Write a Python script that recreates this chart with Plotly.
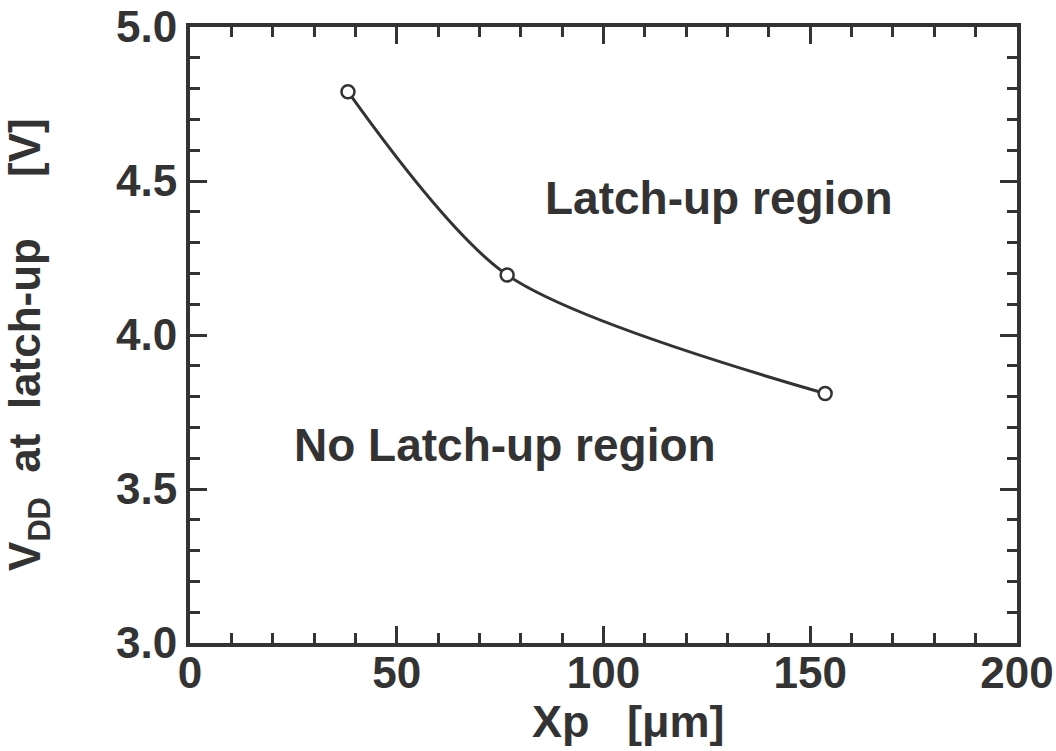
import plotly.graph_objects as go

xp = [38.2, 76.7, 153.6]
vdd = [4.79, 4.195, 3.81]
x_ticks = [0, 50, 100, 150, 200]
y_ticks = [3.0, 3.5, 4.0, 4.5, 5.0]
y_ticklabels = ["3.0", "3.5", "4.0", "4.5", "5.0"]

ink = "#333333"
font_family = "Liberation Sans, Arial, sans-serif"

fig = go.Figure()
fig.add_trace(go.Scatter(
    x=xp, y=vdd, mode="lines+markers",
    line=dict(color=ink, width=3, shape="spline", smoothing=0.8),
    marker=dict(symbol="circle", size=13, color="white",
                line=dict(color=ink, width=2.5)),
    showlegend=False,
))

fig.add_annotation(x=127.9, y=4.445, text="Latch-up region", showarrow=False,
                   font=dict(family=font_family, size=46, color=ink, weight="bold"))
fig.add_annotation(x=76.2, y=3.643, text="No Latch-up region", showarrow=False,
                   font=dict(family=font_family, size=46, color=ink, weight="bold"))

# axis titles
fig.add_annotation(x=106, xref="x", y=-0.128, yref="paper", yanchor="middle",
                   text="Xp   [μm]", showarrow=False,
                   font=dict(family=font_family, size=45, color=ink, weight="bold"))
fig.add_annotation(x=-0.195, xref="paper", xanchor="center", y=3.97, yref="y",
                   text="V<sub>DD</sub>  at  latch-up     [V]", showarrow=False, textangle=-90,
                   font=dict(family=font_family, size=44, color=ink, weight="bold"))

axis_common = dict(
    showline=True, linecolor=ink, linewidth=4, mirror="ticks",
    ticks="inside", ticklen=17, tickwidth=3, tickcolor=ink,
    showgrid=False, zeroline=False, automargin=False,
    tickfont=dict(family=font_family, size=44, color=ink, weight="bold"),
)

fig.update_layout(
    width=1056, height=751,
    margin=dict(l=190, r=39, t=27, b=108, autoexpand=False),
    paper_bgcolor="white", plot_bgcolor="white",
    xaxis=dict(range=[0, 200], tickvals=x_ticks, ticktext=[str(v) for v in x_ticks],
               ticklabelstandoff=-12,
               minor=dict(dtick=10, ticks="inside", ticklen=10, tickwidth=3, tickcolor=ink),
               **axis_common),
    yaxis=dict(range=[3.0, 5.0], tickvals=y_ticks, ticktext=y_ticklabels,
               minor=dict(dtick=0.1, ticks="inside", ticklen=10, tickwidth=3, tickcolor=ink),
               **axis_common),
)

fig.write_html("out.html")
